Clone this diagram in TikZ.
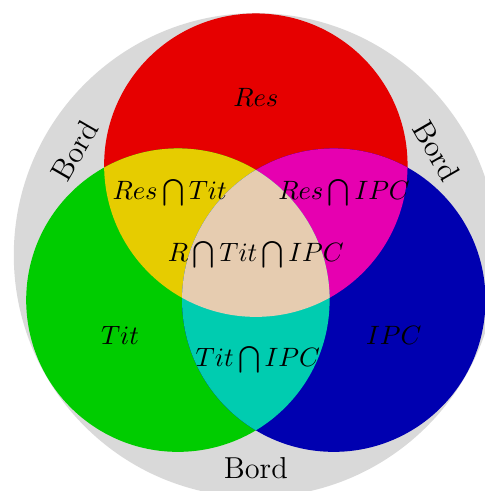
\documentclass[tikz,border=0pt]{standalone}
\usepackage{amsmath, amssymb}
\usepackage{tikz}
\definecolor{resColor}{RGB}{230, 0, 0}
\definecolor{titColor}{RGB}{0, 204, 0}
\definecolor{ipcColor}{RGB}{0, 0, 176}
\definecolor{resTitColor}{RGB}{230, 204, 0}
\definecolor{resIpcColor}{RGB}{230, 0, 176}
\definecolor{titIpcColor}{RGB}{0, 204, 176}
\definecolor{allColor}{RGB}{230, 204, 176}
\definecolor{bordColor}{RGB}{217, 217, 217}

\begin{document}
\begin{tikzpicture}[every node/.style={font=\fontsize{11}{13}\selectfont, inner sep=1pt},
    bordText/.style={font=\fontsize{12.5}{15}\selectfont}]
    \useasboundingbox (-3.71,-3.42) rectangle (3.32,3.70);
    \clip (-3.71,-3.42) rectangle (3.32,3.70);
    \def\rad{2.2}
    \coordinate (res) at (90:1.305);
    \coordinate (tit) at (210:1.305);
    \coordinate (ipc) at (330:1.305);

    \fill[bordColor] (0,0) circle (3.51);
    \fill[resColor] (res) circle (\rad);
    \fill[titColor] (tit) circle (\rad);
    \fill[ipcColor] (ipc) circle (\rad);

    % les intersections deux a deux, puis le centre
    \begin{scope}
        \clip (res) circle (\rad);
        \fill[resTitColor] (tit) circle (\rad);
        \fill[resIpcColor] (ipc) circle (\rad);
    \end{scope}
    \begin{scope}
        \clip (tit) circle (\rad);
        \fill[titIpcColor] (ipc) circle (\rad);
    \end{scope}
    \begin{scope}
        \clip (res) circle (\rad);
        \clip (tit) circle (\rad);
        \fill[allColor] (ipc) circle (\rad);
    \end{scope}

    \node (resLabel) at (0,2.29) {$Res$};
    \node (titLabel) at (-1.97,-1.16) {$Tit$};
    \node (ipcLabel) at (2.0,-1.16) {$IPC$};
    \node (resTit) at (-1.25,0.9) {$Res\bigcap Tit$};
    \node (resIpc) at (1.28,0.9) {$Res\bigcap IPC$};
    \node (titIpc) at (0.03,-1.52) {$Tit\bigcap IPC$};
    \node (all) at (0,0) {$R\bigcap Tit\bigcap IPC$};

    \node[bordText, rotate=60] (bordLeft) at (150:3.03) {Bord};
    \node[bordText, rotate=-60] (bordRight) at (30:3.03) {Bord};
    \node[bordText] (bordBottom) at (270:3.09) {Bord};
\end{tikzpicture}
\end{document}
